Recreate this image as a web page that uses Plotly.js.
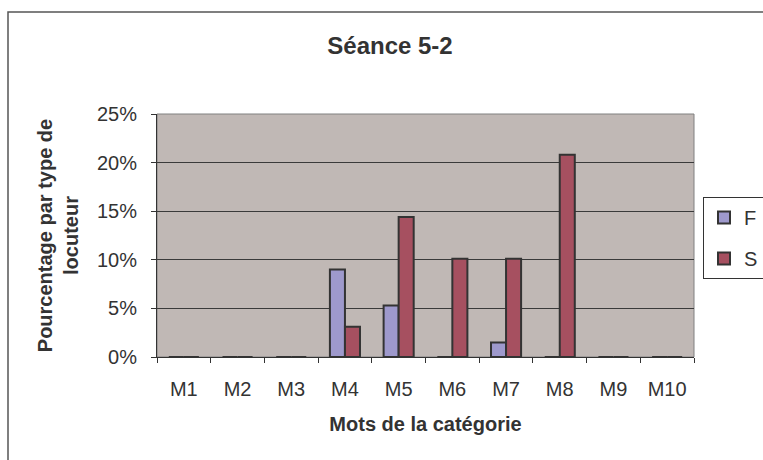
<!DOCTYPE html>
<html>
<head>
<meta charset="utf-8">
<script src="https://cdn.plot.ly/plotly-3.0.1.min.js"></script>
<style>html,body{margin:0;padding:0;background:#fff}#chart{width:763px;height:460px}</style>
</head>
<body>
<div id="chart"></div>
<script>
var categories = ["M1","M2","M3","M4","M5","M6","M7","M8","M9","M10"];
var seriesF = [0, 0, 0, 0.090, 0.053, 0, 0.015, 0, 0, 0];
var seriesS = [0, 0, 0, 0.031, 0.144, 0.101, 0.101, 0.208, 0, 0];
var yTicks = [0, 0.05, 0.10, 0.15, 0.20, 0.25];
var yTickLabels = ["0%","5%","10%","15%","20%","25%"];

var font = "Liberation Sans, Arial, sans-serif";
var traces = [
  {type:"bar", name:"F", legendgroup:"F", x:categories, y:seriesF,
   marker:{color:"#9E99CC", line:{color:"#333333", width:2}}},
  {type:"bar", name:"S", legendgroup:"S", x:categories, y:seriesS,
   marker:{color:"#A65060", line:{color:"#333333", width:2}}}
];
var layout = {
  width:763, height:460,
  margin:{l:157, r:69, t:114, b:103, autoexpand:false},
  paper_bgcolor:"#ffffff",
  plot_bgcolor:"#C0B8B5",
  font:{family:font, color:"#333333", size:20},
  barmode:"group", bargap:0.44, bargroupgap:0,
  title:{text:"<b>Séance 5-2</b>", font:{family:font, size:24, color:"#333333"},
         x:390/763, xanchor:"center", xref:"container", y:1-46/460, yanchor:"middle", yref:"container"},
  xaxis:{type:"category", tickson:"boundaries", ticks:"outside", ticklen:5, tickcolor:"#333333",
         showline:true, linecolor:"#333333", linewidth:1, showgrid:false, zeroline:false,
         ticklabelstandoff:14,
         tickfont:{family:font, size:20, color:"#333333"},
         title:{text:"<b>Mots de la catégorie</b>", font:{family:font, size:20, color:"#333333"}, standoff:17}},
  yaxis:{range:[0,0.25], tickvals:yTicks, ticktext:yTickLabels, ticks:"outside", ticklen:5,
         tickcolor:"#333333", showline:true, linecolor:"#333333", linewidth:1,
         showgrid:true, gridcolor:"#3a3a3a", gridwidth:1, zeroline:false,
         ticklabelstandoff:10,
         tickfont:{family:font, size:20, color:"#333333"},
         title:{text:"<b>Pourcentage par type de<br>locuteur</b>", font:{family:font, size:20, color:"#333333"}, standoff:12}},
  legend:{xref:"container", yref:"container", x:703/763, xanchor:"left", y:1-197/460, yanchor:"top",
          bordercolor:"#333333", borderwidth:1, bgcolor:"#ffffff",
          font:{family:font, size:20, color:"#333333"}, itemwidth:30, tracegroupgap:12},
  shapes:[
    {type:"rect", xref:"paper", yref:"paper", x0:0, x1:1, y0:0, y1:1, layer:"below",
     line:{color:"#808080", width:1}, fillcolor:"rgba(0,0,0,0)"},
    {type:"rect", xref:"paper", yref:"paper", x0:(8-157)/537, x1:(800-157)/537, y0:(357-500)/243, y1:(357-12)/243,
     line:{color:"#555555", width:1.5}, fillcolor:"rgba(0,0,0,0)"}
  ],
  showlegend:true
};
Plotly.newPlot("chart", traces, layout, {displayModeBar:false, staticPlot:true});
</script>
</body>
</html>
